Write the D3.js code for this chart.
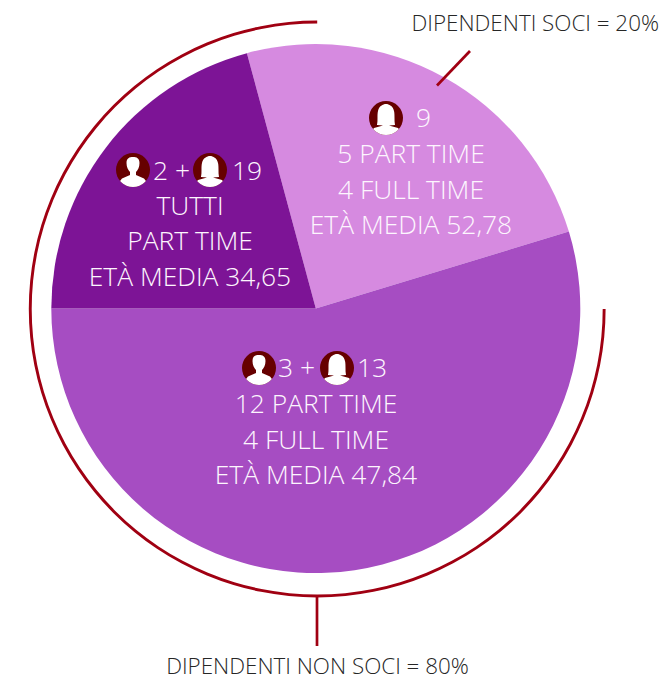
<!DOCTYPE html>
<html>
<head>
<meta charset="utf-8">
<script src="https://cdn.jsdelivr.net/npm/d3@7"></script>
<style>
  html, body { margin: 0; padding: 0; background: #fff; overflow: hidden; }
  svg { display: block; }
  text { font-family: "Open Sans", sans-serif; font-weight: 300; }
</style>
</head>
<body>
<div id="chart"></div>
<script>
// slice shares
const slices = ["soci", "non soci", "tutti part time"];
const shares = [24.5, 54.7, 20.8];
const colors = ["#d68ae0", "#a64dc2", "#7d1496"];

const sliceLines = [
  ["5 PART TIME", "4 FULL TIME", "ETÀ MEDIA 52,78"],
  ["12 PART TIME", "4 FULL TIME", "ETÀ MEDIA 47,84"],
  ["TUTTI", "PART TIME", "ETÀ MEDIA 34,65"]
];
const labelTop = "DIPENDENTI SOCI = 20%";
const labelBottom = "DIPENDENTI NON SOCI = 80%";

const width = 667;
const height = 680;
const cx = 315.8;
const cy = 308.5;
const radius = 264.5;
const ringRadius = 285.5;
const ringColor = "#a00012";
const iconColor = "#660000";
const textColor = "#fdf6fe";
const labelColor = "#262626";

const svg = d3.select("#chart").append("svg")
  .attr("width", width)
  .attr("height", height)
  .attr("viewBox", `0 0 ${width} ${height}`);

const toRad = (deg) => deg * Math.PI / 180;

// Pie
const pie = d3.pie()
  .sort(null)
  .startAngle(toRad(-15.1))
  .endAngle(toRad(344.9));
const arc = d3.arc().innerRadius(0).outerRadius(radius);

const g = svg.append("g").attr("transform", `translate(${cx},${cy})`);
g.selectAll("path")
  .data(pie(shares))
  .join("path")
  .attr("d", arc)
  .attr("fill", (d, i) => colors[i]);

// Outer ring, open in the top right quarter
const ring = d3.arc()
  .innerRadius(ringRadius)
  .outerRadius(ringRadius + 2.9)
  .startAngle(toRad(90))
  .endAngle(toRad(360));
svg.append("path")
  .attr("transform", "translate(317.2,309)")
  .attr("d", ring())
  .attr("fill", ringColor);

// Leader lines
const leaders = [
  [437, 85.5, 470, 51],
  [317, 597, 317, 646]
];
svg.selectAll("line.leader")
  .data(leaders)
  .join("line")
  .attr("class", "leader")
  .attr("x1", d => d[0])
  .attr("y1", d => d[1])
  .attr("x2", d => d[2])
  .attr("y2", d => d[3])
  .attr("stroke", ringColor)
  .attr("stroke-width", 2.7);

// Outside labels
svg.append("text")
  .attr("x", 659).attr("y", 31)
  .attr("text-anchor", "end")
  .attr("font-size", 22.4)
  .attr("fill", labelColor)
  .text(labelTop);
svg.append("text")
  .attr("x", 317.5).attr("y", 673.5)
  .attr("text-anchor", "middle")
  .attr("font-size", 22.4)
  .attr("fill", labelColor)
  .text(labelBottom);

// Person icons, drawn in a 34x34 box around the origin
function drawIcon(x, y, kind) {
  const id = `clip-${x}-${y}`;
  const icon = svg.append("g").attr("transform", `translate(${x},${y})`);
  icon.append("clipPath").attr("id", id).append("circle").attr("r", 17);
  icon.append("circle").attr("r", 17).attr("fill", iconColor);
  const body = icon.append("g").attr("clip-path", `url(#${id})`).attr("fill", "#fff");
  if (kind === "m") {
    body.append("path").attr("d", "M-6.5,-7 C-6.5,-12 -3.5,-13 0,-13 C3.5,-13 6.5,-12 6.5,-7 C6.5,-3 5,0 3,2 L3,5 L11,8.5 L20,20 L-20,20 L-11,8.5 L-3,5 L-3,2 C-5,0 -6.5,-3 -6.5,-7 Z");
  } else {
    body.append("path").attr("d", "M-9,7 C-8,2 -9,-3 -8,-7 C-7,-12 -3,-14 0,-14 C3,-14 7,-12 8,-7 C9,-3 8,2 9,7 L3,7.5 L12,10 L20,20 L-20,20 L-12,10 L-3,7.5 Z");
  }
}

// Text block of a slice
function drawLines(x, ys, lines) {
  svg.selectAll(null)
    .data(lines)
    .join("text")
    .attr("x", x)
    .attr("y", (d, i) => ys[i])
    .attr("text-anchor", "middle")
    .attr("font-size", 26.4)
    .attr("fill", textColor)
    .text(d => d);
}

function drawCount(x, y, str) {
  svg.append("text")
    .attr("x", x).attr("y", y)
    .attr("font-size", 26.4)
    .attr("fill", textColor)
    .text(str);
}

drawLines(411, [163, 199, 234], sliceLines[0]);
drawLines(316, [413, 449, 484], sliceLines[1]);
drawLines(190, [215, 250, 286], sliceLines[2]);

// Light slice
drawIcon(386, 118, "f");
drawCount(416, 127, "9");

// Dark slice
drawIcon(133, 170, "m");
drawCount(153, 180, "2 +");
drawIcon(210, 170, "f");
drawCount(232, 180, "19");

// Medium slice
drawIcon(259, 368, "m");
drawCount(278, 377, "3 +");
drawIcon(337, 368, "f");
drawCount(357, 377, "13");
</script>
</body>
</html>
